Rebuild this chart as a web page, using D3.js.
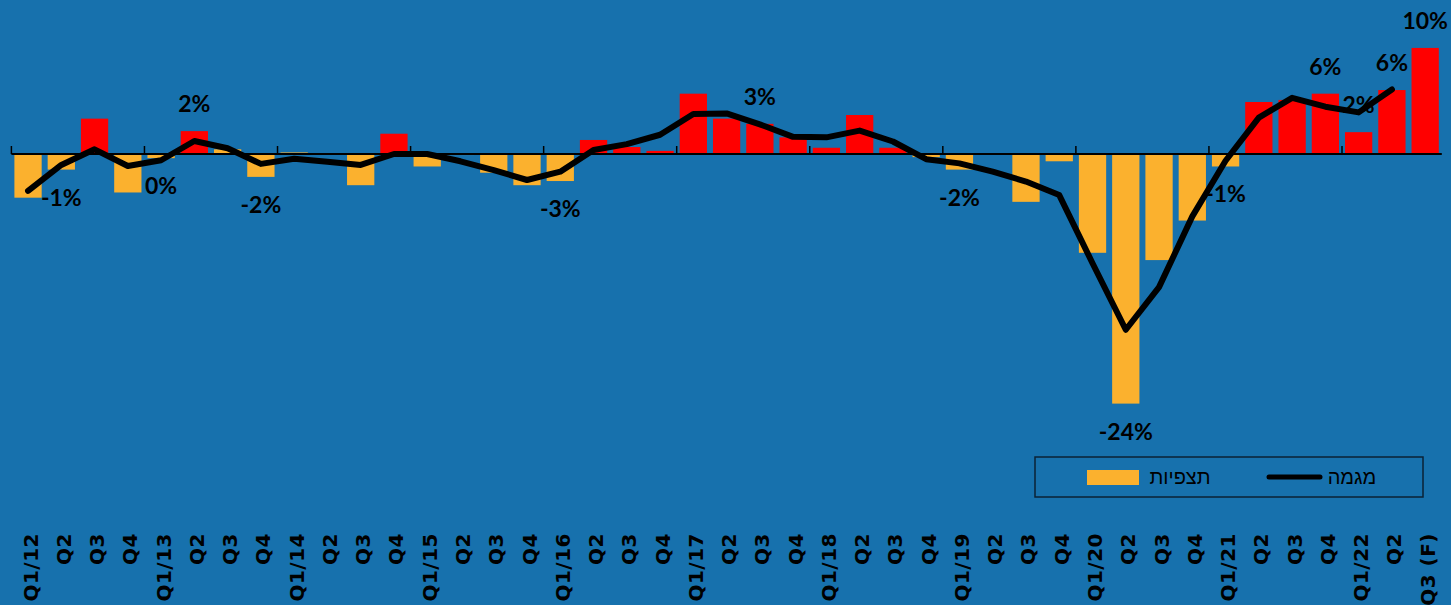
<!DOCTYPE html>
<html>
<head>
<meta charset="utf-8">
<script src="https://cdn.jsdelivr.net/npm/d3@7"></script>
<style>
  body { margin: 0; background: #1771ad; }
  svg { display: block; }
</style>
</head>
<body>
<div id="chart"></div>
<script>
// Tick labels along the bottom, one per quarter
var tickLabels = [
  "Q1/12", "Q2", "Q3", "Q4",
  "Q1/13", "Q2", "Q3", "Q4",
  "Q1/14", "Q2", "Q3", "Q4",
  "Q1/15", "Q2", "Q3", "Q4",
  "Q1/16", "Q2", "Q3", "Q4",
  "Q1/17", "Q2", "Q3", "Q4",
  "Q1/18", "Q2", "Q3", "Q4",
  "Q1/19", "Q2", "Q3", "Q4",
  "Q1/20", "Q2", "Q3", "Q4",
  "Q1/21", "Q2", "Q3", "Q4",
  "Q1/22", "Q2", "Q3 (F)"
];

// Observations (bars), % change
var observations = [
  -4.2, -1.5, 3.4, -3.7,
  -0.4, 2.2, 0.45, -2.2,
  0.15, 0, -3.0, 1.95,
  -1.2, -0.1, -1.8, -3.0,
  -2.6, 1.35, 0.67, 0.3,
  5.8, 3.4, 2.9, 1.6,
  0.6, 3.75, 0.6, -0.3,
  -1.5, 0, -4.6, -0.7,
  -9.5, -24.0, -10.2, -6.4,
  -1.2, 5.0, 5.2, 5.8,
  2.1, 6.15, 10.2
];

// Trend line (no value for the forecast quarter)
var trend = [
  -3.55, -1.05, 0.45, -1.15,
  -0.6, 1.25, 0.55, -0.95,
  -0.45, -0.75, -1.05, 0.0,
  0.0, -0.7, -1.55, -2.5,
  -1.7, 0.38, 0.95, 1.85,
  3.85, 3.9, 2.85, 1.65,
  1.6, 2.25, 1.2, -0.5,
  -0.9, -1.7, -2.65, -3.95,
  -10.5, -16.9, -12.8, -6.0,
  -0.65, 3.5, 5.4, 4.55,
  4.0, 6.2
];

// small positive bars that are drawn in the "observation" colour anyway
var paleUpBars = [6, 8];

// value labels: which quarter they sit on and their text
var labelCats = [1, 4, 5, 7, 16, 22, 28, 33, 36, 39, 40, 41, 42];
var labelTexts = ["-1%", "0%", "2%", "-2%", "-3%", "3%", "-2%", "-24%", "-1%", "6%", "2%", "6%", "10%"];

var svgWidth = 1451;
var svgHeight = 605;

var svg = d3.select("#chart")
  .append("svg")
  .attr("width", svgWidth)
  .attr("height", svgHeight);

svg.append("rect")
  .attr("width", svgWidth)
  .attr("height", svgHeight)
  .attr("fill", "#1771ad");

// scales
var xScale = d3.scaleBand()
  .domain(d3.range(tickLabels.length))
  .range([11.4, 1441.8])
  .paddingInner(0.18)
  .paddingOuter(0.09);

var yScale = d3.scaleLinear()
  .domain([-25, 10])
  .range([414, 50]);

var bw = xScale.bandwidth();
var cx = i => xScale(i) + bw / 2;

// bars
svg.append("g").selectAll("rect")
  .data(observations)
  .enter()
  .append("rect")
  .attr("x", (d, i) => xScale(i))
  .attr("width", bw)
  .attr("y", d => yScale(Math.max(0, d)))
  .attr("height", d => Math.abs(yScale(d) - yScale(0)))
  .attr("fill", (d, i) => (d > 0 && paleUpBars.indexOf(i) < 0) ? "#ff0000" : "#fbb12e");

// zero axis line with ticks at each Q1
var zeroY = yScale(0);
var axisG = svg.append("g");
axisG.append("line")
  .attr("x1", xScale.range()[0])
  .attr("x2", xScale.range()[1])
  .attr("y1", zeroY)
  .attr("y2", zeroY)
  .attr("stroke", "#000")
  .attr("stroke-width", 2);

axisG.selectAll(".tick")
  .data(d3.range(0, tickLabels.length, 4))
  .enter()
  .append("line")
  .attr("class", "tick")
  .attr("x1", i => xScale.range()[0] + i * xScale.step())
  .attr("x2", i => xScale.range()[0] + i * xScale.step())
  .attr("y1", zeroY)
  .attr("y2", zeroY - 8)
  .attr("stroke", "#000")
  .attr("stroke-width", 1.5);

// value labels (under the trend line)
svg.append("g").selectAll("text")
  .data(labelCats)
  .enter()
  .append("text")
  .attr("x", i => cx(i))
  .attr("y", i => observations[i] >= 0 ? yScale(observations[i]) - 19 : yScale(observations[i]) + 36)
  .attr("text-anchor", "middle")
  .style("font-family", "Lato, 'Open Sans', sans-serif")
  .style("font-weight", "bold")
  .style("font-size", "23px")
  .style("fill", "#000")
  .text((d, k) => labelTexts[k]);

// trend line
var trendLine = d3.line()
  .x((d, i) => cx(i))
  .y(d => yScale(d));

svg.append("path")
  .datum(trend)
  .attr("d", trendLine)
  .attr("fill", "none")
  .attr("stroke", "#000")
  .attr("stroke-width", 6)
  .attr("stroke-linejoin", "round")
  .attr("stroke-linecap", "round");

// rotated quarter labels
var bottomAxis = d3.axisBottom(xScale)
  .tickSize(0)
  .tickFormat(i => tickLabels[i]);

svg.append("g")
  .attr("transform", "translate(0, 533)")
  .call(bottomAxis)
  .call(g => g.select(".domain").remove())
  .selectAll("text")
  .attr("transform", "rotate(-90)")
  .attr("text-anchor", "end")
  .attr("x", 0)
  .attr("y", 9.5)
  .attr("dy", 0)
  .style("font-family", "'DejaVu Sans', sans-serif")
  .style("font-weight", "bold")
  .style("font-size", "20px")
  .style("letter-spacing", "0.5px")
  .style("fill", "#000");

// legend
var legend = svg.append("g");
legend.append("rect")
  .attr("x", 1035)
  .attr("y", 457)
  .attr("width", 388)
  .attr("height", 40)
  .attr("fill", "none")
  .attr("stroke", "#0b2236")
  .attr("stroke-width", 1.5);

legend.append("rect")
  .attr("x", 1087)
  .attr("y", 470)
  .attr("width", 52)
  .attr("height", 15)
  .attr("fill", "#fbb12e");

legend.append("text")
  .attr("x", 1180)
  .attr("y", 484)
  .attr("text-anchor", "middle")
  .style("font-family", "'Liberation Sans', sans-serif")
  .style("font-size", "20px")
  .style("fill", "#000")
  .text("תצפיות");

legend.append("line")
  .attr("x1", 1269)
  .attr("x2", 1320)
  .attr("y1", 477)
  .attr("y2", 477)
  .attr("stroke", "#000")
  .attr("stroke-width", 5)
  .attr("stroke-linecap", "round");

legend.append("text")
  .attr("x", 1352)
  .attr("y", 484)
  .attr("text-anchor", "middle")
  .style("font-family", "'Liberation Sans', sans-serif")
  .style("font-size", "20px")
  .style("fill", "#000")
  .text("מגמה");
</script>
</body>
</html>
